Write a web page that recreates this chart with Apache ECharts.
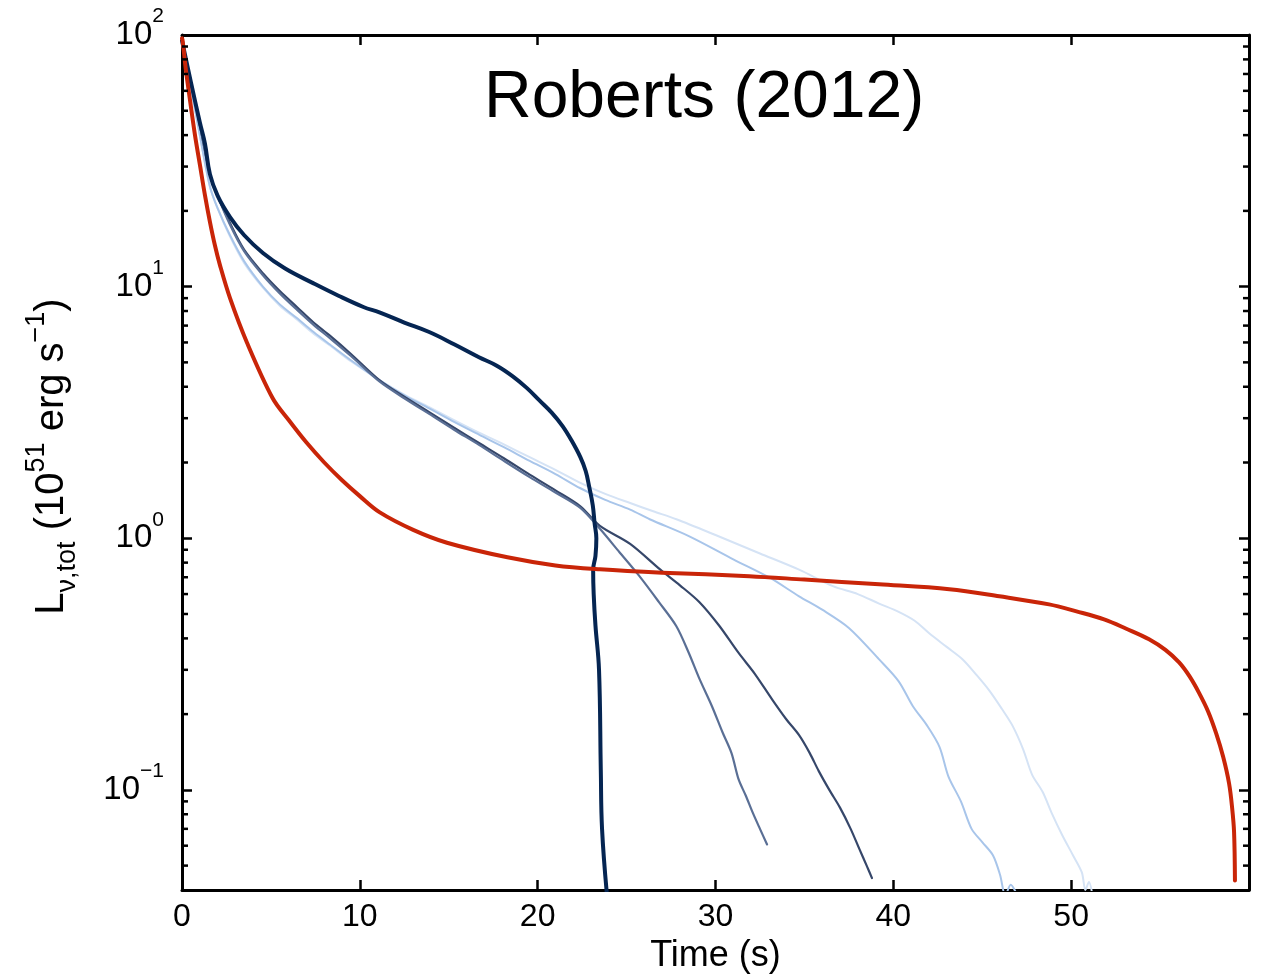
<!DOCTYPE html>
<html><head><meta charset="utf-8">
<script src="https://cdn.jsdelivr.net/npm/echarts@6/dist/echarts.min.js"></script>
<style>html,body{margin:0;padding:0;background:#fff}#c{width:1271px;height:980px}</style>
</head><body><div id="c"></div>
<script>
// ---- data (time in s, luminosity in 1e51 erg/s) ----
const redT = [0, 0.03, 0.22, 0.45, 0.73, 1.01, 1.29, 1.57, 1.85, 2.13, 2.7, 3.65, 5.1, 6, 7, 8, 9, 10, 11.1, 13, 14.9, 18.3, 21, 23.5, 27, 31.9, 35, 39.2, 43.15, 45.96, 48.76, 50.3, 51.85, 53.1, 54.38, 55.3, 56.07, 56.65, 57.19, 57.7, 58.15, 58.55, 58.88, 59.05, 59.16, 59.21];
const redL = [97, 95.5, 72.6, 55.1, 40.0, 30.4, 23.1, 18.1, 14.6, 12.2, 9.0, 6.0, 3.6, 2.95, 2.4, 2.0, 1.7, 1.47, 1.27, 1.08, 0.96, 0.84, 0.78, 0.753, 0.73, 0.707, 0.685, 0.656, 0.627, 0.588, 0.546, 0.512, 0.476, 0.437, 0.397, 0.36, 0.321, 0.283, 0.243, 0.205, 0.168, 0.135, 0.106, 0.085, 0.068, 0.0436];

const navyT = [0, 0.5, 1.0, 1.29, 1.57, 2.0, 2.7, 3.5, 4.55, 5.8, 7.4, 8.8, 10.2, 11.1, 12.5, 13.9, 15.3, 16.7, 17.7, 18.6, 19.4, 20.1, 20.8, 21.4, 21.9, 22.4, 22.7, 22.9, 23.1, 23.2, 23.3, 23.25, 23.12, 23.15, 23.25, 23.45, 23.55, 23.62, 23.9];
const navyL = [95, 65, 45, 37, 28, 23, 18.9, 16, 13.6, 11.8, 10.3, 9.2, 8.3, 7.9, 7.2, 6.6, 5.9, 5.24, 4.85, 4.4, 3.95, 3.53, 3.15, 2.79, 2.45, 2.10, 1.85, 1.6, 1.35, 1.15, 1.0, 0.85, 0.75, 0.6, 0.45, 0.3, 0.12, 0.07, 0.038];

const runBT = [0, 0.5, 1.0, 1.57, 2.0, 2.7, 3.5, 4.55, 5.5, 6.46, 7.4, 8.3, 9.5, 11.1, 12.5, 13.9, 15.3, 16.7, 18.1, 19.55, 21, 22.4, 23.5, 25.2, 26.9, 28, 29.1, 30.2, 31.3, 32.2, 33.2, 34.0, 34.7, 35.3, 35.8, 36.4, 37.0, 37.6, 38.1, 38.5, 38.8];
const runBL = [93, 65, 44, 28, 23, 17.9, 14, 11.3, 9.6, 8.3, 7.2, 6.4, 5.4, 4.25, 3.65, 3.17, 2.75, 2.39, 2.08, 1.79, 1.55, 1.34, 1.12, 0.95, 0.75, 0.65, 0.557, 0.45, 0.35, 0.29, 0.228, 0.19, 0.165, 0.14, 0.119, 0.1, 0.085, 0.07, 0.058, 0.05, 0.0446];

const runAT = [0, 0.5, 1.0, 1.57, 2.0, 2.7, 3.5, 4.55, 5.5, 6.46, 7.4, 8.3, 9.5, 11.1, 12.5, 13.9, 15.3, 16.7, 18.1, 19.55, 21, 22.4, 23.5, 24.6, 25.7, 26.8, 27.8, 28.5, 29.1, 29.8, 30.4, 30.9, 31.3, 31.7, 32.1, 32.5, 32.9];
const runAL = [93, 65, 44, 28, 23, 17.6, 13.8, 11.1, 9.4, 8.1, 7.05, 6.25, 5.3, 4.2, 3.6, 3.12, 2.7, 2.35, 2.03, 1.75, 1.52, 1.32, 1.09, 0.88, 0.71, 0.56, 0.447, 0.35, 0.276, 0.215, 0.169, 0.14, 0.11, 0.095, 0.081, 0.07, 0.0607];

const runCT = [0, 0.5, 1.0, 1.57, 2.0, 2.7, 3.5, 4.55, 5.5, 6.46, 7.4, 8.3, 9.5, 11.1, 12.5, 13.9, 15.3, 16.7, 18.1, 19.55, 21, 22.4, 23.8, 25.2, 26.3, 28.5, 31.0, 33, 34.7, 36, 37.5, 39.2, 40.3, 41.1, 41.9, 42.6, 43.1, 43.8, 44.4, 45.0, 45.6, 46.0, 46.3, 46.6, 46.9];
const runCL = [93, 62, 40, 25, 20.5, 16, 12.6, 10.0, 8.5, 7.5, 6.6, 5.9, 5.1, 4.25, 3.7, 3.28, 2.9, 2.58, 2.3, 2.03, 1.8, 1.58, 1.42, 1.3, 1.19, 1.02, 0.825, 0.7, 0.588, 0.52, 0.44, 0.33, 0.27, 0.215, 0.18, 0.148, 0.113, 0.09, 0.07, 0.062, 0.055, 0.046, 0.038, 0.042, 0.039];

const runDT = [0, 0.5, 1.0, 1.57, 2.0, 2.7, 3.5, 4.55, 5.5, 6.46, 7.4, 8.3, 9.5, 11.1, 12.5, 13.9, 15.3, 16.7, 18.1, 19.55, 21, 22.4, 23.8, 25.2, 26.5, 27.8, 30, 32.5, 34.7, 36.6, 38.0, 39.2, 40.3, 41.2, 42.0, 43.0, 43.9, 44.7, 45.4, 46.1, 46.7, 47.3, 47.8, 48.4, 48.9, 49.5, 50.1, 50.6, 50.8, 51.0, 51.2];
const runDL = [93, 62, 40, 25, 20.5, 15.8, 12.4, 9.9, 8.4, 7.4, 6.5, 5.85, 5.05, 4.25, 3.72, 3.32, 2.95, 2.63, 2.36, 2.1, 1.87, 1.66, 1.5, 1.38, 1.28, 1.19, 1.03, 0.87, 0.75, 0.645, 0.6, 0.55, 0.51, 0.47, 0.42, 0.37, 0.33, 0.285, 0.248, 0.21, 0.18, 0.145, 0.115, 0.098, 0.081, 0.066, 0.055, 0.047, 0.040, 0.043, 0.038];

const xLabels = [0, 10, 20, 30, 40, 50];
const yMinorTicks = [0.05, 0.06, 0.07, 0.08, 0.09, 0.2, 0.3, 0.4, 0.5, 0.6, 0.7, 0.8, 0.9, 2, 3, 4, 5, 6, 7, 8, 9, 20, 30, 40, 50, 60, 70, 80, 90];
const X_MIN = 0, X_MAX = 60, Y_MIN = 0.04, Y_MAX = 100;

function pairs(t, l) { return t.map((v, i) => [v, l[i]]); }

const FONT = '"Liberation Sans", Arial, Helvetica, sans-serif';
const chart = echarts.init(document.getElementById('c'), null, { renderer: 'canvas' });

const axisLineStyle = { show: true, onZero: false, lineStyle: { color: '#000', width: 3 } };
const tickStyle = { show: true, inside: true, length: 10, lineStyle: { color: '#000', width: 2.5 } };

function lineSeries(name, t, l, color, width, z, smooth) {
  return {
    name, type: 'line', data: pairs(t, l), showSymbol: false, symbol: 'none',
    smooth, z, clip: true,
    lineStyle: { color, width, join: 'round', cap: 'round' }
  };
}

const option = {
  animation: false,
  backgroundColor: '#fff',
  title: {
    text: 'Roberts (2012)', left: 479, top: 61,
    textStyle: { fontFamily: FONT, fontSize: 66, fontWeight: 'normal', color: '#000' }
  },
  grid: { left: 182, right: 22, top: 35, bottom: 90 },
  xAxis: [
    {
      type: 'value', min: X_MIN, max: X_MAX, interval: 10, position: 'bottom',
      axisLine: axisLineStyle, axisTick: tickStyle, splitLine: { show: false },
      axisLabel: {
        formatter: v => xLabels.indexOf(v) >= 0 ? String(v) : '',
        fontFamily: FONT, fontSize: 32, color: '#000', margin: 11
      },
      name: 'Time (s)', nameLocation: 'middle', nameGap: 48,
      nameTextStyle: { fontFamily: FONT, fontSize: 36, color: '#000' }
    },
    {
      type: 'value', min: X_MIN, max: X_MAX, interval: 10, position: 'top',
      axisLine: axisLineStyle, axisTick: tickStyle, splitLine: { show: false },
      axisLabel: { show: false }
    }
  ],
  yAxis: [
    {
      type: 'log', logBase: 10, min: Y_MIN, max: Y_MAX, position: 'left',
      axisLine: axisLineStyle, axisTick: tickStyle, splitLine: { show: false },
      axisLabel: {
        margin: 18,
        formatter: v => {
          const e = Math.log10(v);
          const r = Math.round(e);
          if (Math.abs(e - r) > 1e-6) return '';
          return '{b|10}{s|' + (r < 0 ? '\u2212' + (-r) : r) + '}';
        },
        rich: {
          b: { fontFamily: FONT, fontSize: 33, color: '#000', lineHeight: 58 },
          s: { fontFamily: FONT, fontSize: 21, color: '#000', lineHeight: 21, verticalAlign: 'top' }
        }
      },
      name: '{m|L}{sub|\u03bd,tot}{m| (10}{sup|51}{m| erg s}{sup|\u22121}{m|)}',
      nameLocation: 'middle', nameRotate: 90, nameGap: 101,
      nameTextStyle: {
        padding: [0, 0, 0, 12],
        rich: {
          m: { fontFamily: FONT, fontSize: 40, color: '#000', lineHeight: 58 },
          sub: { fontFamily: FONT, fontSize: 27, color: '#000', lineHeight: 27, verticalAlign: 'bottom' },
          sup: { fontFamily: FONT, fontSize: 27, color: '#000', lineHeight: 27, verticalAlign: 'top' }
        }
      }
    },
    {
      type: 'log', logBase: 10, min: Y_MIN, max: Y_MAX, position: 'right',
      axisLine: axisLineStyle, axisTick: tickStyle, splitLine: { show: false },
      axisLabel: { show: false }
    }
  ],
  series: [
    lineSeries('run D', runDT, runDL, '#d5e3f5', 2, 2, 0.3),
    lineSeries('run C', runCT, runCL, '#a8c5ea', 2, 3, 0.3),
    lineSeries('run B', runBT, runBL, '#36476a', 2.2, 4, 0.3),
    lineSeries('run A', runAT, runAL, '#5a6f95', 2.2, 4, 0.3),
    lineSeries('navy', navyT, navyL, '#052552', 4, 6, 0.4),
    lineSeries('red', redT, redL, '#c92508', 4, 7, 0.35),
    {
      type: 'custom', xAxisIndex: 0, yAxisIndex: 0, silent: true, z: 10, clip: false,
      data: yMinorTicks.map(v => [X_MIN, v]),
      renderItem: (params, api) => {
        const y = api.value(1);
        const pL = api.coord([X_MIN, y]);
        const pR = api.coord([X_MAX, y]);
        return {
          type: 'group', children: [
            { type: 'line', shape: { x1: pL[0], y1: pL[1], x2: pL[0] + 6, y2: pL[1] }, style: { stroke: '#000', lineWidth: 2.5 } },
            { type: 'line', shape: { x1: pR[0], y1: pR[1], x2: pR[0] - 6, y2: pR[1] }, style: { stroke: '#000', lineWidth: 2.5 } }
          ]
        };
      }
    }
  ]
};
chart.setOption(option);
</script>
</body></html>
